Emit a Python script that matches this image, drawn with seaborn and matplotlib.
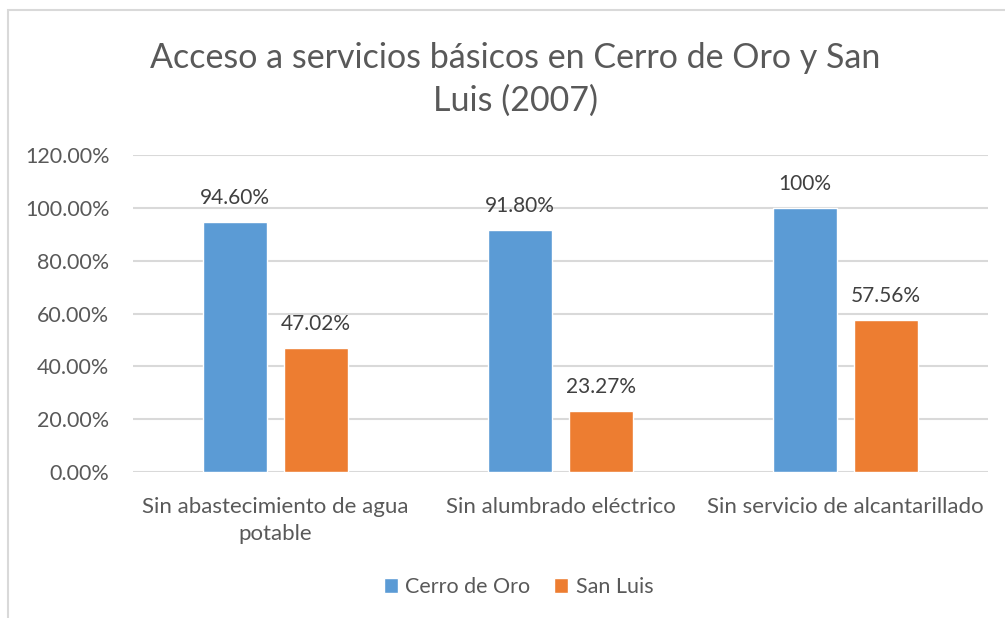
import pandas as pd
import matplotlib
matplotlib.use("Agg")
import matplotlib.pyplot as plt
import seaborn as sns
from matplotlib.patches import Rectangle
from matplotlib.ticker import FuncFormatter

# --- Données ---
categories = ["Sin abastecimiento de agua\npotable", "Sin alumbrado eléctrico",
              "Sin servicio de alcantarillado"]
series = ["Cerro de Oro", "San Luis"]
cerro_de_oro = [94.60, 91.80, 100.0]
san_luis = [47.02, 23.27, 57.56]
labels_cerro = ["94.60%", "91.80%", "100%"]
labels_san_luis = ["47.02%", "23.27%", "57.56%"]
y_ticks = [0, 20, 40, 60, 80, 100, 120]

COLORS = ["#5B9BD5", "#ED7D31"]
TEXT = "#595959"
GRID = "#D9D9D9"

df = pd.DataFrame({
    "Categoria": categories * 2,
    "Serie": [series[0]] * 3 + [series[1]] * 3,
    "Valor": cerro_de_oro + san_luis,
})

sns.set_theme(style="white")
plt.rcParams["font.family"] = ["Lato", "DejaVu Sans"]

fig = plt.figure(figsize=(10.05, 6.18), dpi=100)
ax = fig.add_axes([0.1323, 0.2362, 0.8507, 0.5128])

sns.barplot(data=df, x="Categoria", y="Valor", hue="Serie", palette=COLORS,
            width=0.568, gap=0.21, ax=ax, legend=True, saturation=1)

for cont, labs in zip(ax.containers, [labels_cerro, labels_san_luis]):
    ax.bar_label(cont, labels=labs, padding=10, fontsize=15, color="#404040")

ax.set_ylim(0, 120)
ax.set_yticks(y_ticks)
ax.yaxis.set_major_formatter(FuncFormatter(lambda v, p: f"{v:.2f}%"))
ax.grid(axis="y", color=GRID, linewidth=1.5)
ax.set_axisbelow(True)
for s in ax.spines.values():
    s.set_visible(False)
ax.tick_params(axis="y", length=0, labelsize=15.5, labelcolor=TEXT, pad=17)
ax.tick_params(axis="x", length=0, labelsize=16, labelcolor=TEXT, pad=18)
for t in ax.get_xticklabels():
    t.set_linespacing(1.45)
ax.set_xlabel("")
ax.set_ylabel("")

ax.legend(loc="center", bbox_to_anchor=(0.516, 1 - 587 / 618), bbox_transform=fig.transFigure,
          ncol=2, frameon=False, fontsize=15.5, labelcolor=TEXT,
          handlelength=0.65, handleheight=0.65, handletextpad=0.35, columnspacing=1.1)

fig.text(0.513, 1 - 79 / 618, "Acceso a servicios básicos en Cerro de Oro y San\nLuis (2007)",
         ha="center", va="center", fontsize=24.5, color=TEXT, linespacing=1.4)

fig.add_artist(Rectangle((8 / 1005, -0.1), 1.2, 1.1 - 10 / 618, transform=fig.transFigure,
                         fill=False, edgecolor=GRID, linewidth=1.5))

fig.savefig("out.png", dpi=100)
